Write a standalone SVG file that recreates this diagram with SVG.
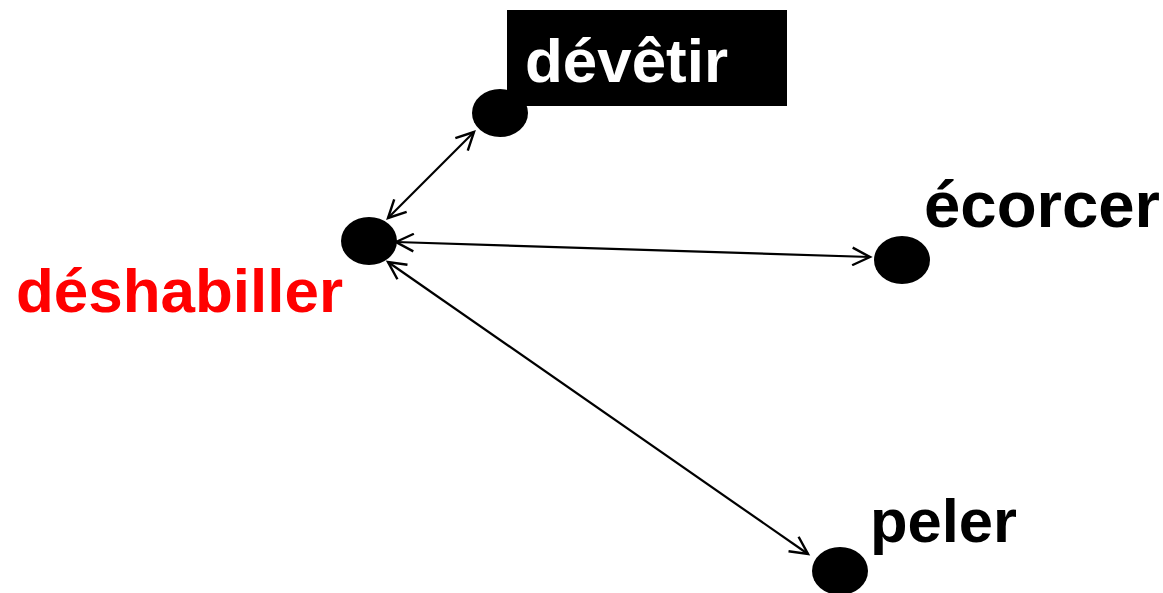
<svg xmlns="http://www.w3.org/2000/svg" width="1163" height="593" viewBox="0 0 1163 593">
<style>
.dot{fill:#000}
.lbl{font-family:"Liberation Sans",Arial,sans-serif;font-weight:bold;font-size:62px}
.edge{stroke:#000;stroke-width:2.2;fill:none;marker-start:url(#ah);marker-end:url(#ah)}
</style>
<defs>
<marker id="ah" markerUnits="userSpaceOnUse" markerWidth="22" markerHeight="20" refX="17" refY="9" orient="auto-start-reverse" viewBox="0 0 20 18">
<path d="M1,1 L17,9 L1,17" fill="none" stroke="#000" stroke-width="2.2"/>
</marker>
</defs>
<rect width="1163" height="593" fill="#fff"/>
<g id="connectors">
<line class="edge" x1="388" y1="218" x2="474" y2="132"/>
<line class="edge" x1="396" y1="242" x2="870" y2="257"/>
<line class="edge" x1="388" y1="262" x2="808" y2="554"/>
</g>
<g id="node-deshabiller">
<ellipse class="dot" cx="369" cy="241" rx="28" ry="24"/>
<text class="lbl" x="16" y="312" fill="#ff0000" textLength="327" lengthAdjust="spacingAndGlyphs">déshabiller</text>
</g>
<g id="node-devetir">
<rect x="507" y="10" width="280" height="96" fill="#000"/>
<ellipse class="dot" cx="500" cy="113" rx="28" ry="24"/>
<text class="lbl" x="525" y="82" fill="#fff" textLength="203" lengthAdjust="spacingAndGlyphs">dévêtir</text>
</g>
<g id="node-ecorcer">
<ellipse class="dot" cx="902" cy="260" rx="28" ry="24"/>
<text class="lbl" x="924" y="227" fill="#000" style="font-size:64px" textLength="236" lengthAdjust="spacingAndGlyphs">écorcer</text>
</g>
<g id="node-peler">
<ellipse class="dot" cx="840" cy="571" rx="28" ry="24"/>
<text class="lbl" x="870" y="542" fill="#000" textLength="147" lengthAdjust="spacingAndGlyphs">peler</text>
</g>
</svg>
